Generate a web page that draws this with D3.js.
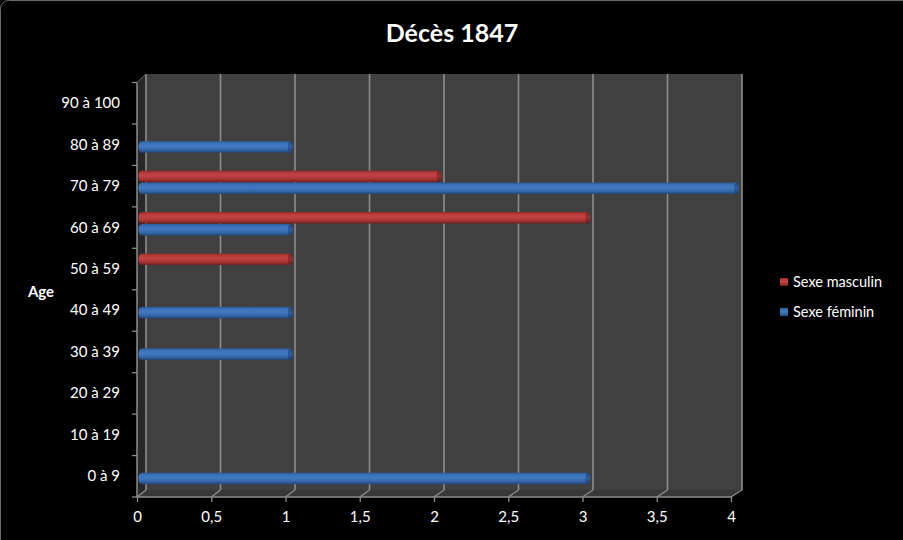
<!DOCTYPE html>
<html>
<head>
<meta charset="utf-8">
<script src="https://cdn.jsdelivr.net/npm/d3@7/dist/d3.min.js"></script>
<style>
  html, body { margin: 0; padding: 0; background: #000; }
  svg { display: block; }
  text { font-family: Lato, "Open Sans", "Noto Sans", sans-serif; fill: #fff; }
</style>
</head>
<body>
<svg id="chart" width="903" height="540"></svg>
<script>
const categories = ["0 à 9","10 à 19","20 à 29","30 à 39","40 à 49","50 à 59","60 à 69","70 à 79","80 à 89","90 à 100"];
const masculin = [0,0,0,0,0,1,3,2,0,0];
const feminin  = [3,0,0,1,1,0,1,4,1,0];
const xTicks = [0,0.5,1,1.5,2,2.5,3,3.5,4];
const seriesNames = ["Sexe masculin","Sexe féminin"];
const title = "Décès 1847";
const yTitle = "Age";

const svg = d3.select("#chart");
const W = 903, H = 540;

svg.append("rect").attr("width", W).attr("height", H).attr("fill", "#000");
// outer rounded frame (partially visible)
svg.append("rect").attr("x", 0.5).attr("y", 0.5).attr("width", W + 20).attr("height", H + 20)
  .attr("rx", 8).attr("fill", "none").attr("stroke", "#6a6a6a").attr("stroke-width", 1);

const defs = svg.append("defs");
function vgrad(id, stops) {
  const g = defs.append("linearGradient").attr("id", id).attr("x1", 0).attr("y1", 0).attr("x2", 0).attr("y2", 1);
  stops.forEach(s => g.append("stop").attr("offset", s[0]).attr("stop-color", s[1]));
}
vgrad("gBlue", [[0,"#2b5b9a"],[0.2,"#3d72bb"],[0.45,"#4279c2"],[0.75,"#3466a8"],[1,"#22467a"]]);
vgrad("gRed",  [[0,"#8e2a2a"],[0.2,"#bb3c3c"],[0.45,"#c24242"],[0.75,"#a83434"],[1,"#6e1f1f"]]);
vgrad("gBlueCap", [[0,"#23497e"],[0.5,"#2f5e9e"],[1,"#1d3d6b"]]);
vgrad("gRedCap",  [[0,"#7a2424"],[0.5,"#9c3030"],[1,"#611b1b"]]);

// geometry
const frontX = d3.scaleLinear().domain([0,4]).range([137, 731]);
const backX  = d3.scaleLinear().domain([0,4]).range([146, 742]);
const midX   = d3.scaleLinear().domain([0,4]).range([141.5, 736.5]);
const frontTop = 82.5, frontBottom = 497, backTop = 74, backBottom = 490;
const yFront = d3.scaleBand().domain(categories.slice().reverse()).range([frontTop, frontBottom]).paddingInner(0).paddingOuter(0);
const midShift = -3.8;

// back wall
svg.append("rect").attr("x", backX(0)).attr("y", backTop)
  .attr("width", backX(4) - backX(0)).attr("height", backBottom - backTop).attr("fill", "#404040");
// left wall
svg.append("path").attr("d", `M${frontX(0)},${frontTop} L${backX(0)},${backTop} L${backX(0)},${backBottom} L${frontX(0)},${frontBottom} Z`)
  .attr("fill", "#282828");
// floor
svg.append("path").attr("d", `M${frontX(0)},${frontBottom} L${backX(0)},${backBottom} L${backX(4)},${backBottom} L${frontX(4)},${frontBottom} Z`)
  .attr("fill", "#383838");

// gridlines on back wall + floor diagonals
xTicks.forEach(t => {
  svg.append("line").attr("x1", backX(t)).attr("x2", backX(t)).attr("y1", backTop).attr("y2", backBottom)
    .attr("stroke", "#8c8c8c").attr("stroke-width", 1.6);
  svg.append("line").attr("x1", frontX(t)).attr("x2", backX(t)).attr("y1", frontBottom).attr("y2", backBottom)
    .attr("stroke", "#8c8c8c").attr("stroke-width", 1.4);
});

// axes lines
svg.append("line").attr("x1", frontX(0)).attr("x2", frontX(4)).attr("y1", frontBottom).attr("y2", frontBottom)
  .attr("stroke", "#8c8c8c").attr("stroke-width", 1.5);
svg.append("line").attr("x1", frontX(0)).attr("x2", frontX(0)).attr("y1", frontTop).attr("y2", frontBottom)
  .attr("stroke", "#8c8c8c").attr("stroke-width", 1.5);
svg.append("line").attr("x1", frontX(0)).attr("x2", backX(0)).attr("y1", frontTop).attr("y2", backTop)
  .attr("stroke", "#6a6a6a").attr("stroke-width", 1);

// x axis ticks & labels
const xAxisG = svg.append("g").attr("transform", `translate(0,${frontBottom})`)
  .call(d3.axisBottom(frontX).tickValues(xTicks).tickSize(5).tickPadding(9)
    .tickFormat(d => String(d).replace(".", ",")));
xAxisG.select(".domain").remove();
xAxisG.selectAll(".tick line").attr("stroke", "#8c8c8c").attr("stroke-width", 1.3);
xAxisG.selectAll(".tick text").attr("fill", "#fff").style("font-size", "15px")
  .style("font-family", 'Lato, "Open Sans", sans-serif');

// y axis ticks (band boundaries) & labels
const bounds = d3.range(categories.length + 1).map(i => frontTop + i * yFront.step());
svg.selectAll(".ytick").data(bounds).enter().append("line")
  .attr("x1", frontX(0) - 5).attr("x2", frontX(0)).attr("y1", d => d).attr("y2", d => d)
  .attr("stroke", "#8c8c8c").attr("stroke-width", 1.3);
svg.selectAll(".ylab").data(categories).enter().append("text")
  .attr("x", 120).attr("y", d => yFront(d) + yFront.bandwidth() / 2 + 5)
  .attr("text-anchor", "end").style("font-size", "15px").text(d => d);

// axis title
svg.append("text").attr("x", 41).attr("y", 297).attr("text-anchor", "middle")
  .style("font-size", "15px").style("font-weight", "bold").text(yTitle);

// bars (cylinders)
const barH = 11.5;
const series = [
  { values: masculin, fill: "url(#gRed)", cap: "url(#gRedCap)", off: -6 },
  { values: feminin,  fill: "url(#gBlue)", cap: "url(#gBlueCap)", off: 6 }
];
series.forEach(s => {
  categories.forEach((c, i) => {
    const v = s.values[i];
    if (!v) return;
    const cy = yFront(c) + yFront.bandwidth() / 2 + midShift + s.off;
    const x0 = midX(0), x1 = midX(v);
    const g = svg.append("g");
    g.append("ellipse").attr("cx", x0).attr("cy", cy).attr("rx", 3).attr("ry", barH / 2).attr("fill", s.fill);
    g.append("rect").attr("x", x0).attr("y", cy - barH / 2).attr("width", x1 - x0).attr("height", barH).attr("fill", s.fill);
    g.append("ellipse").attr("cx", x1).attr("cy", cy).attr("rx", 2.5).attr("ry", barH / 2).attr("fill", s.cap);
  });
});

// title
svg.append("text").attr("x", 452).attr("y", 42).attr("text-anchor", "middle")
  .style("font-size", "25px").style("font-weight", "bold").text(title);

// legend
const legFills = ["url(#gRed)", "url(#gBlue)"];
seriesNames.forEach((n, i) => {
  const y = 282 + i * 30;
  svg.append("rect").attr("x", 780).attr("y", y - 4).attr("width", 8).attr("height", 8).attr("fill", legFills[i]);
  svg.append("text").attr("x", 793).attr("y", y + 5).style("font-size", "14.5px").text(n);
});
</script>
</body>
</html>
